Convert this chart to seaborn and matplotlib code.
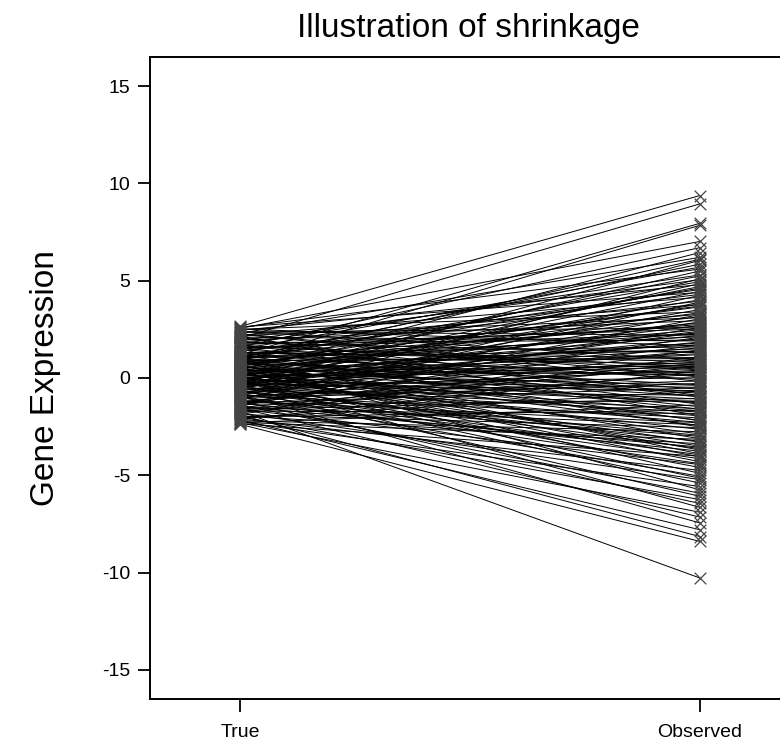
import matplotlib
matplotlib.use("Agg")
import matplotlib.pyplot as plt
import seaborn as sns
import pandas as pd

conditions = ["True", "Observed"]

true_values = [
    2.65, 2.05, 1.20, 0.85, 2.55, 1.60, 0.40, 2.30, -0.30, 1.05,
    2.60, 0.15, 1.75, -0.85, 0.95, 2.45, 0.60, -0.20, 1.40, 2.20,
    0.05, -1.10, 1.85, 0.70, -0.55, 2.50, 1.15, 0.30, -1.45, 1.95,
    0.80, -0.10, 2.35, 0.50, -0.75, 1.55, 1.00, -0.35, 2.10, 0.20,
    -1.25, 1.30, 0.65, -0.60, 1.80, 0.00, -1.85, 0.90, 2.40, -0.25,
    1.10, 0.35, -0.95, 1.65, 0.10, -1.60, 0.75, -0.40, 1.45, 2.25,
    -1.05, 0.25, -0.15, 1.25, -2.05, 0.55, -0.70, 1.70, -0.05, -1.35,
    0.45, -2.30, 1.00, -0.50, 0.15, -1.70, 2.15, -0.90, 0.60, -0.30,
    -1.50, 1.35, -0.10, -2.20, 0.35, -1.15, 0.80, -0.65, -1.95, 0.05,
    -0.45, -1.30, 0.95, -2.35, -0.80, 0.30, -1.60, -0.20, -2.10, 0.50,
    -1.00, -1.80, -0.35, -2.25, 0.70, -1.40, -0.60, -2.00, -1.20, -0.15,
    -2.30, -1.55, -0.85, -2.15, -1.90, -2.38, -1.70,
    0.12, -0.48, 0.88, 1.52, -0.92, 0.38, -1.22, 1.92, 0.62, -0.28,
    1.08, -1.62, 0.22, 2.52, -0.72, 0.98, -0.08, 1.58, -1.38, 0.48,
    -0.58, 1.28, -1.88, 0.72, 2.18, -0.32, 0.08, -1.08, 1.68, -0.18,
    0.58, -2.12, 1.38, -0.78, 0.28, 1.82, -1.48, 0.92, -0.42, 2.28,
    -0.98, 0.18, 1.18, -1.78, 0.42, -0.12, 1.48, -1.28, 0.68, 2.38,
    -0.62, 0.02, 1.12, -2.28, -0.38, 0.82, 1.72, -1.18, 0.32, -0.88,
    2.08, -1.52, 0.52, 1.02, -0.22, 2.62, -2.00, 0.10, -0.68, 1.32,
    -1.32, 0.78, -0.02,
]

observed_values = [
    9.38, 8.95, 7.95, 7.85, 7.02, 6.70, 6.45, 6.20, 6.05, 5.85,
    5.60, 5.50, 5.30, 5.10, 4.95, 4.80, 4.62, 4.45, 4.30, 4.15,
    4.02, 3.90, 3.78, 3.65, 3.52, 3.40, 3.28, 3.15, 3.05, 2.95,
    2.82, 2.70, 2.58, 2.47, 2.35, 2.25, 2.12, 2.02, 1.90, 1.80,
    1.70, 1.60, 1.50, 1.40, 1.30, 1.20, 1.10, 1.00, 0.92, 0.82,
    0.72, 0.62, 0.52, 0.42, 0.32, 0.22, 0.12, 0.02, -0.08, -0.18,
    -0.28, -0.38, -0.48, -0.58, -0.68, -0.78, -0.88, -0.98, -1.08, -1.18,
    -1.28, -1.38, -1.48, -1.58, -1.70, -1.82, -1.94, -2.05, -2.17, -2.28,
    -2.40, -2.52, -2.64, -2.76, -2.88, -3.00, -3.12, -3.25, -3.38, -3.50,
    -3.63, -3.76, -3.90, -4.02, -4.15, -4.30, -4.45, -4.60, -4.75, -4.90,
    -5.05, -5.22, -5.40, -5.58, -5.75, -5.92, -6.08, -6.25, -6.45, -6.65,
    -6.90, -7.15, -7.45, -7.80, -8.15, -8.40, -10.28,
    0.55, 1.85, -0.35, 2.65, -0.15, 3.35, 0.75, 5.05, -2.45, 2.40,
    4.55, -1.05, 1.25, 1.65, -2.95, 0.25, 3.80, -1.35, 2.10, 5.25,
    -1.75, 1.05, -2.55, 2.30, 3.10, -0.65, -3.30, 4.25, 0.58, 1.55,
    -0.95, 0.35, 3.95, 0.95, -4.05, 1.95, -3.55, 6.10, 2.88, 0.05,
    -4.40, 2.18, -2.20, 1.45, 0.18, -5.15, 5.70, -0.50, 3.70, 2.20,
    0.40, -1.95, 1.38, -3.15, 4.85, -0.72, 2.52, -2.30, 1.72, 3.25,
    -0.90, 0.65, -3.70, 2.75, -1.22, 4.40, -1.65, 4.70, -3.95, 0.85,
    2.60, -1.60, 0.70,
]

n = len(true_values)
df = pd.DataFrame({
    "gene": list(range(n)) * 2,
    "condition": [conditions[0]] * n + [conditions[1]] * n,
    "pos": [0] * n + [1] * n,
    "value": true_values + observed_values,
})

sns.set_style("ticks")
plt.rcParams["font.family"] = ["Liberation Sans", "DejaVu Sans"]
plt.rcParams["text.color"] = "black"
plt.rcParams["axes.labelcolor"] = "black"
plt.rcParams["xtick.color"] = "black"
plt.rcParams["ytick.color"] = "black"

fig = plt.figure(figsize=(7.8, 7.45), dpi=100)
ax = fig.add_axes([150 / 780, 46 / 745, 640 / 780, 642 / 745])

sns.lineplot(data=df, x="pos", y="value", units="gene", estimator=None,
             sort=False, color="black", linewidth=0.7, ax=ax, legend=False)
sns.scatterplot(data=df, x="pos", y="value", marker="x", color="#444444",
                s=70, linewidth=0.9, ax=ax, legend=False, zorder=3)

ax.set_xlim(-0.196, 1.196)
ax.set_ylim(-16.5, 16.5)
ax.set_xticks([0, 1])
ax.set_xticklabels(conditions, fontsize=14)
ax.set_yticks([-15, -10, -5, 0, 5, 10, 15])
ax.set_yticklabels(["-15", "-10", "-5", "0", "5", "10", "15"], fontsize=14)
ax.tick_params(axis="both", length=9, width=1.3, pad=5, colors="black")
ax.tick_params(axis="x", pad=9)
for s in ax.spines.values():
    s.set_linewidth(1.4)
    s.set_color("black")
ax.set_xlabel("")
ax.set_ylabel("Gene Expression", fontsize=24, labelpad=30)
fig.text(468 / 780, 1 - 28 / 745, "Illustration of shrinkage", fontsize=24,
         ha="center", va="center")

fig.savefig("out.png", dpi=100)
